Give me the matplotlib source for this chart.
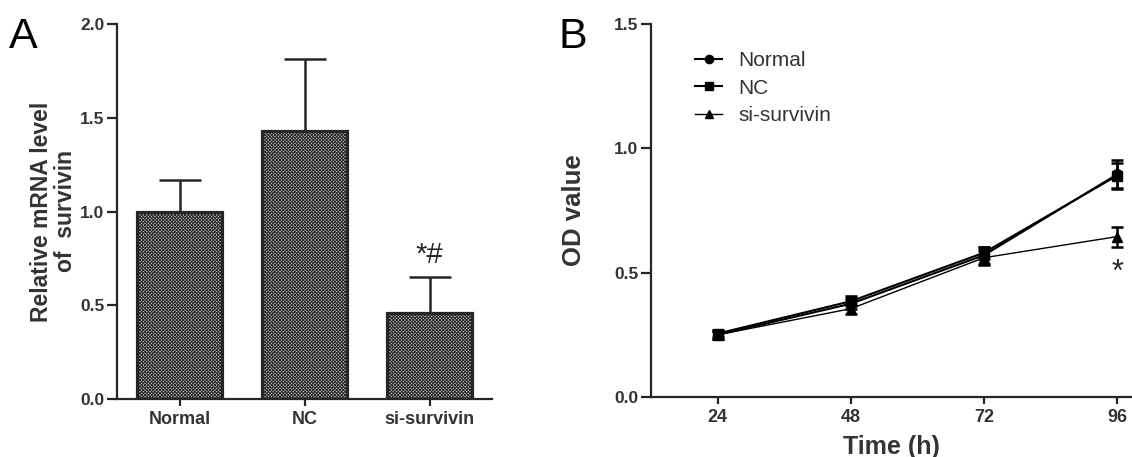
import matplotlib
matplotlib.use("Agg")
import matplotlib.pyplot as plt
import numpy as np

plt.rcParams['font.family'] = ['Liberation Sans', 'DejaVu Sans']
plt.rcParams['hatch.linewidth'] = 0.7
plt.rcParams['hatch.color'] = '#4a4a4a'

# ---- Panel A data ----
groups = ["Normal", "NC", "si-survivin"]
mrna_mean = [1.00, 1.43, 0.46]
mrna_err = [0.17, 0.385, 0.19]
sig_a = "*#"

# ---- Panel B data ----
times = [24, 48, 72, 96]
od_normal = [0.250, 0.375, 0.570, 0.895]
od_normal_err = [0.015, 0.020, 0.035, 0.060]
od_nc = [0.255, 0.385, 0.580, 0.890]
od_nc_err = [0.015, 0.020, 0.025, 0.050]
od_si = [0.250, 0.355, 0.560, 0.645]
od_si_err = [0.015, 0.020, 0.030, 0.040]
series_labels = ["Normal", "NC", "si-survivin"]

W, H = 1132, 457
fig = plt.figure(figsize=(W / 100, H / 100), dpi=100)

dark = '#262626'
txt = '#333333'

# ---------- Panel A ----------
axA = fig.add_axes([117 / W, 1 - 399 / H, (492 - 117) / W, (399 - 24) / H])
x = np.arange(len(groups))
axA.bar(x, mrna_mean, width=0.68, color='#c0c0c0', edgecolor=dark,
        linewidth=2.3, hatch='xxxxxxxxxx', zorder=2)
axA.errorbar(x, mrna_mean, yerr=[np.zeros(len(x)), mrna_err], fmt='none',
             ecolor=dark, elinewidth=1.8, capsize=15, capthick=1.8, zorder=1)
axA.set_xlim(-0.5, 2.5)
axA.set_ylim(0, 2.0)
yA = [0.0, 0.5, 1.0, 1.5, 2.0]
axA.set_yticks(yA)
axA.set_yticklabels([f"{v:.1f}" for v in yA], fontsize=12.5, fontweight='bold', color=txt)
axA.set_xticks(x)
axA.set_xticklabels(groups, fontsize=13, fontweight='bold', color=txt)
axA.text(2, mrna_mean[2] + mrna_err[2] + 0.045, sig_a, ha='center', va='bottom',
         fontsize=21, color=dark)
axA.set_ylabel("Relative mRNA level\nof  survivin", fontsize=16.5,
               fontweight='bold', color=txt, linespacing=1.1, labelpad=2)
for s in ['top', 'right']:
    axA.spines[s].set_visible(False)
for s in ['left', 'bottom']:
    axA.spines[s].set_linewidth(1.6)
    axA.spines[s].set_color(dark)
axA.tick_params(axis='y', direction='out', length=7, width=1.6, color=dark, pad=2)
axA.tick_params(axis='x', direction='out', length=5, width=1.6, color=dark, pad=4)

# ---------- Panel B ----------
axB = fig.add_axes([651 / W, 1 - 397 / H, (W - 651) / W, (397 - 24) / H])
series = [(od_normal, od_normal_err, 'o', 1.5, 7),
          (od_nc, od_nc_err, 's', 1.5, 7),
          (od_si, od_si_err, '^', 1.0, 7.5)]
for (vals, errs, m, lw, ms), lab in zip(series, series_labels):
    axB.errorbar(times, vals, yerr=errs, fmt='none', ecolor='black',
                 elinewidth=1.8, capsize=4.5, capthick=1.8)
    axB.plot(times, vals, marker=m, lw=lw, color='black', markersize=ms, label=lab)
axB.text(96, 0.50, "*", ha='center', va='center', fontsize=22, color=dark)
axB.set_xlim(12, 98.7)
axB.set_ylim(0, 1.5)
axB.set_xticks(times)
axB.set_xticklabels([str(t) for t in times], fontsize=13, fontweight='bold', color=txt)
yB = [0.0, 0.5, 1.0, 1.5]
axB.set_yticks(yB)
axB.set_yticklabels([f"{v:.1f}" for v in yB], fontsize=12.5, fontweight='bold', color=txt)
axB.set_xlabel("Time (h)", fontsize=18, fontweight='bold', color=txt, labelpad=6)
axB.set_ylabel("OD value", fontsize=18.5, fontweight='bold', color=txt, labelpad=20)
for s in ['top', 'right']:
    axB.spines[s].set_visible(False)
for s in ['left', 'bottom']:
    axB.spines[s].set_linewidth(1.6)
    axB.spines[s].set_color(dark)
axB.tick_params(axis='y', direction='out', length=7, width=1.6, color=dark, pad=2)
axB.tick_params(axis='x', direction='out', length=5, width=1.6, color=dark, pad=4)

handles, labels = axB.get_legend_handles_labels()
leg = axB.legend(handles, labels, loc='upper left', bbox_to_anchor=(0.092, 0.928),
                 frameon=False, fontsize=15, handlelength=1.3, handletextpad=0.75,
                 labelspacing=0.42, borderpad=0, borderaxespad=0, markerscale=0.85)
for t in leg.get_texts():
    t.set_color(txt)

# panel letters
fig.text(9 / W, 1 - 48 / H, "A", fontsize=31, color='black', ha='left', va='baseline')
fig.text(558 / W, 1 - 48 / H, "B", fontsize=31, color='black', ha='left', va='baseline')

fig.savefig("out.png", dpi=100)
